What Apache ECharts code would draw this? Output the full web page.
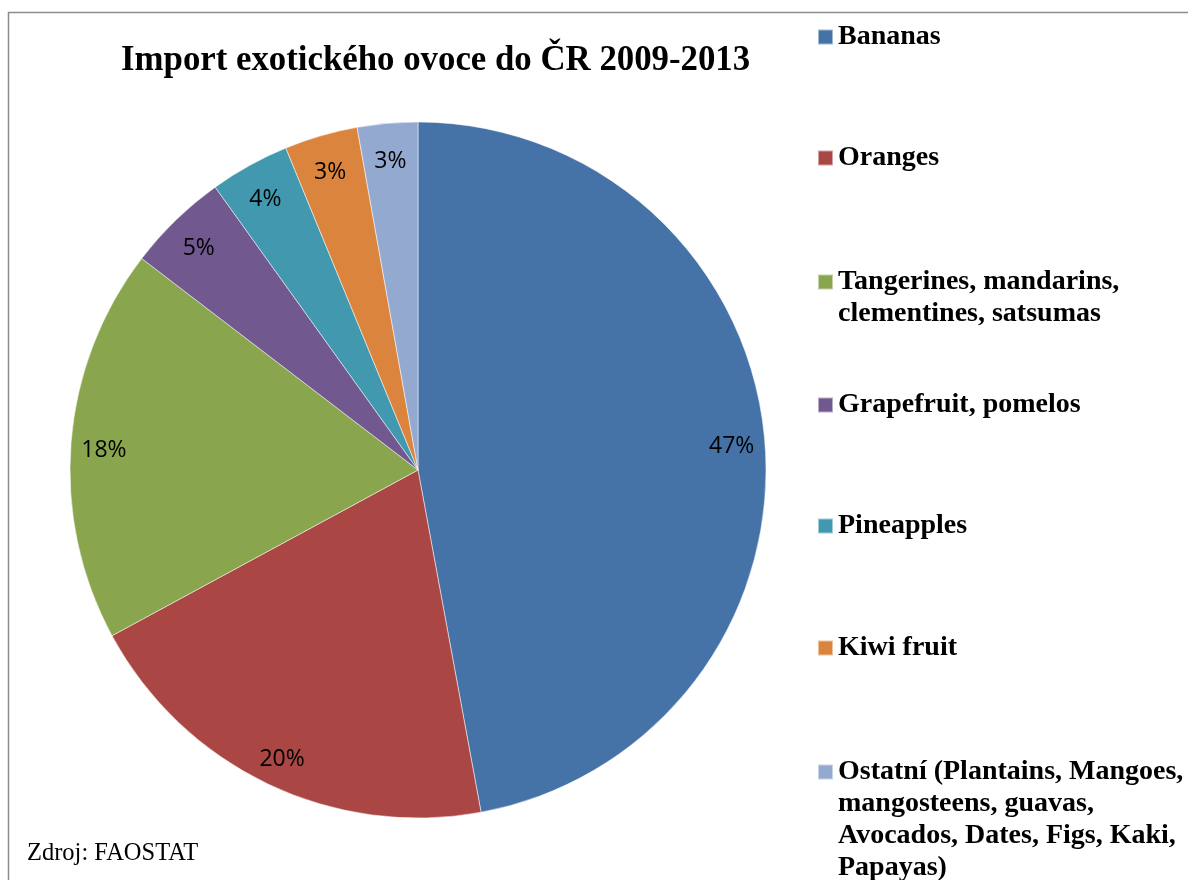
<!DOCTYPE html>
<html><head><meta charset="utf-8">
<script src="https://cdn.jsdelivr.net/npm/echarts@6/dist/echarts.min.js"></script>
<style>html,body{margin:0;padding:0;background:#fff}#c{width:1188px;height:880px}</style>
</head><body><div id="c"></div>
<script>
const titleText = 'Import exotického ovoce do ČR 2009-2013';
const sourceText = 'Zdroj: FAOSTAT';
const categories = ['Bananas', 'Oranges', 'Tangerines, mandarins, clementines, satsumas', 'Grapefruit, pomelos', 'Pineapples', 'Kiwi fruit', 'Ostatní (Plantains, Mangoes, mangosteens, guavas, Avocados, Dates, Figs, Kaki, Papayas)'];
const legendLines = [
  ['Bananas'],
  ['Oranges'],
  ['Tangerines, mandarins,', 'clementines, satsumas'],
  ['Grapefruit, pomelos'],
  ['Pineapples'],
  ['Kiwi fruit'],
  ['Ostatní (Plantains, Mangoes,', 'mangosteens, guavas,', 'Avocados, Dates, Figs, Kaki,', 'Papayas)']
];
const shares = [47.1, 20.0, 18.3, 4.7, 3.7, 3.4, 2.8];
const colors = ['#4572A7', '#AA4643', '#89A54E', '#71588F', '#4198AF', '#DB843D', '#93A9CF'];

const legendFirstLineY = [37, 158, 282, 405, 526, 648, 772];
const LH = 32;

const data = categories.map((c, i) => ({ name: c, value: shares[i], itemStyle: { color: colors[i] } }));

const legends = categories.map((c, i) => {
  const n = legendLines[i].length;
  const pad = new Array(n - 1).fill('').join('\n') + (n > 1 ? '\n' : '');
  const total = 2 * n - 1;
  return {
    data: [{ name: c, itemStyle: { color: colors[i] } }],
    orient: 'vertical',
    left: 817,
    top: legendFirstLineY[i] - total * LH / 2,
    padding: 0,
    icon: 'rect',
    itemWidth: 15,
    itemHeight: 15,
    itemGap: 0,
    selectedMode: false,
    formatter: () => pad + legendLines[i].join('\n'),
    textStyle: { fontFamily: 'Liberation Serif', fontWeight: 'bold', fontSize: 28, lineHeight: LH, color: '#000' }
  };
});

const chart = echarts.init(document.getElementById('c'), null, { renderer: 'canvas' });
chart.setOption({
  animation: false,
  backgroundColor: '#fff',
  title: [
    { text: titleText, left: 121, top: 44, padding: 0,
      textStyle: { fontFamily: 'Liberation Serif', fontWeight: 'bold', fontSize: 34.8, color: '#000' } },
    { text: sourceText, left: 27, top: 841, padding: 0,
      textStyle: { fontFamily: 'Liberation Serif', fontWeight: 'normal', fontSize: 24.5, color: '#000' } }
  ],
  legend: legends,
  graphic: [{ type: 'rect', shape: { x: 8.5, y: 12.5, width: 1400, height: 1000 }, style: { fill: 'none', stroke: '#8c8c8c', lineWidth: 1.5 }, silent: true }],
  series: [
    { type: 'pie', center: [418, 470], radius: [0, 348], startAngle: 90, clockwise: true,
      data: data, label: { show: false }, labelLine: { show: false },
      itemStyle: { borderColor: 'rgba(255,255,255,0.5)', borderWidth: 1 },
      emphasis: { disabled: true }, silent: true },
    { type: 'pie', center: [418, 470], radius: [280, 344], startAngle: 90, clockwise: true,
      data: categories.map((c, i) => ({ name: c, value: shares[i] })),
      itemStyle: { color: 'rgba(0,0,0,0)' }, silent: true, emphasis: { disabled: true },
      label: { show: true, position: 'inside', color: '#000',
        formatter: p => '{g|}\n{v|' + Math.round(p.percent) + '%}',
        rich: {
          g: { fontSize: 1, lineHeight: 10 },
          v: { fontFamily: 'Open Sans', fontSize: 23, lineHeight: 28, color: '#000' }
        } },
      labelLine: { show: false } }
  ]
});
</script></body></html>
